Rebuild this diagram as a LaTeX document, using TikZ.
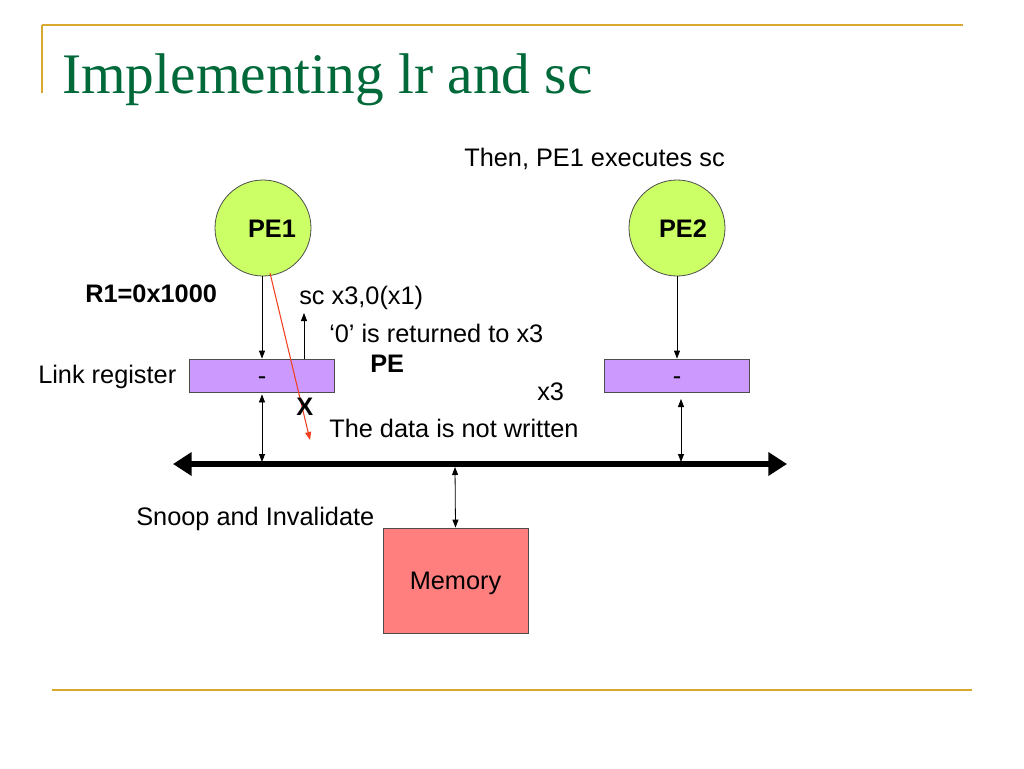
\documentclass[tikz,border=0pt]{standalone}
\usepackage{fontspec}
\setmainfont{Liberation Sans}
\newfontfamily\titlefont{Liberation Serif}
\usetikzlibrary{arrows.meta}
\definecolor{gold}{HTML}{D9A82E}
\definecolor{titlegreen}{HTML}{00693A}
\definecolor{pegreen}{HTML}{CCFF66}
\definecolor{lav}{HTML}{CC99FF}
\definecolor{mem}{HTML}{FF7F7F}
\definecolor{redline}{HTML}{F04020}
\begin{document}
\begin{tikzpicture}[x=0.75pt,y=-0.75pt,
  every node/.style={font=\fontsize{19pt}{22pt}\selectfont, inner sep=0pt},
  pecircle/.style={circle, draw=black!70, fill=pegreen, minimum size=72pt, line width=0.6pt},
  lrbox/.style={draw=black!70, fill=lav, minimum width=108.75pt, minimum height=24.75pt, line width=0.6pt},
  membox/.style={draw=black!70, fill=mem, minimum width=108.75pt, minimum height=78.75pt, line width=0.6pt},
  arr/.style={-{Triangle[length=6pt,width=4.5pt]}, line width=0.6pt},
  darr/.style={{Triangle[length=6pt,width=4.5pt]}-{Triangle[length=6pt,width=4.5pt]}, line width=0.6pt},
  lbl/.style={anchor=base west},
  bold/.style={font=\fontsize{19pt}{22pt}\selectfont\bfseries}
]
\useasboundingbox (0,0) rectangle (1024,768);
% decorative lines
\draw[gold, line width=1.5pt] (42,25) -- (963,25);
\draw[gold, line width=1.5pt] (42,25) -- (42,93);
\draw[gold, line width=1.5pt] (52,690) -- (972,690);
% title
\node[anchor=base west, font=\titlefont\fontsize{43pt}{47pt}\selectfont, text=titlegreen] (title) at (62,93) {Implementing lr and sc};
% top caption
\node[lbl] (then) at (464,166) {Then, PE1 executes sc};
% processors
\node[pecircle] (pe1) at (263,228) {};
\node[bold] (pe1t) at (272,229) {PE1};
\node[pecircle] (pe2) at (677,228) {};
\node[bold] (pe2t) at (683,229) {PE2};
% link registers
\node[lrbox] (lr1) at (262,375.5) {};
\node (lr1v) at (262,381) {-};
\node[lrbox] (lr2) at (676.5,375.5) {};
\node (lr2v) at (677,381) {-};
% memory
\node[membox] (mem) at (455.5,580.5) {};
\node (memt) at (455.5,583) {Memory};
% bus
\coordinate (busL) at (173,464);
\coordinate (busR) at (787,464);
\draw[line width=4.5pt, {Triangle[length=14pt,width=17pt]}-{Triangle[length=14pt,width=17pt]}] (busL) -- (busR);
% arrows
\draw[arr] (pe1.south -| lr1.north) -- (lr1.north);
\draw[arr] (pe2.south) -- (pe2.south |- lr2.north);
\coordinate (upend) at (304,313);
\draw[arr] (lr1.north -| upend) -- (upend);
\coordinate (b1) at (262,462);
\draw[darr] (lr1.south) ++(0,2) -- (b1);
\coordinate (b2) at (681,462);
\coordinate (t2) at (681,399);
\draw[darr] (t2) -- (b2);
\coordinate (b3) at (455,467);
\draw[darr] (b3) -- (mem.north);
% red line
\coordinate (redstart) at (270,273);
\coordinate (redend) at (310,440);
\draw[redline, line width=0.8pt, -{Triangle[length=6pt,width=4.5pt]}] (redstart) -- (redend);
% labels
\node[lbl, bold] (r1) at (85,302) {R1=0x1000};
\node[lbl] (sc) at (299,304) {sc x3,0(x1)};
\node[lbl] (ret) at (329,342) {‘0’ is returned to x3};
\node[lbl, bold] (pe) at (370,372) {PE};
\node[lbl] (lrlab) at (38,383) {Link register};
\node[lbl] (x3) at (537,400) {x3};
\node[lbl, bold] (xx) at (296,415) {X};
\node[lbl] (notw) at (329,437) {The data is not written};
\node[lbl] (snoop) at (136,525) {Snoop and Invalidate};
\end{tikzpicture}
\end{document}
